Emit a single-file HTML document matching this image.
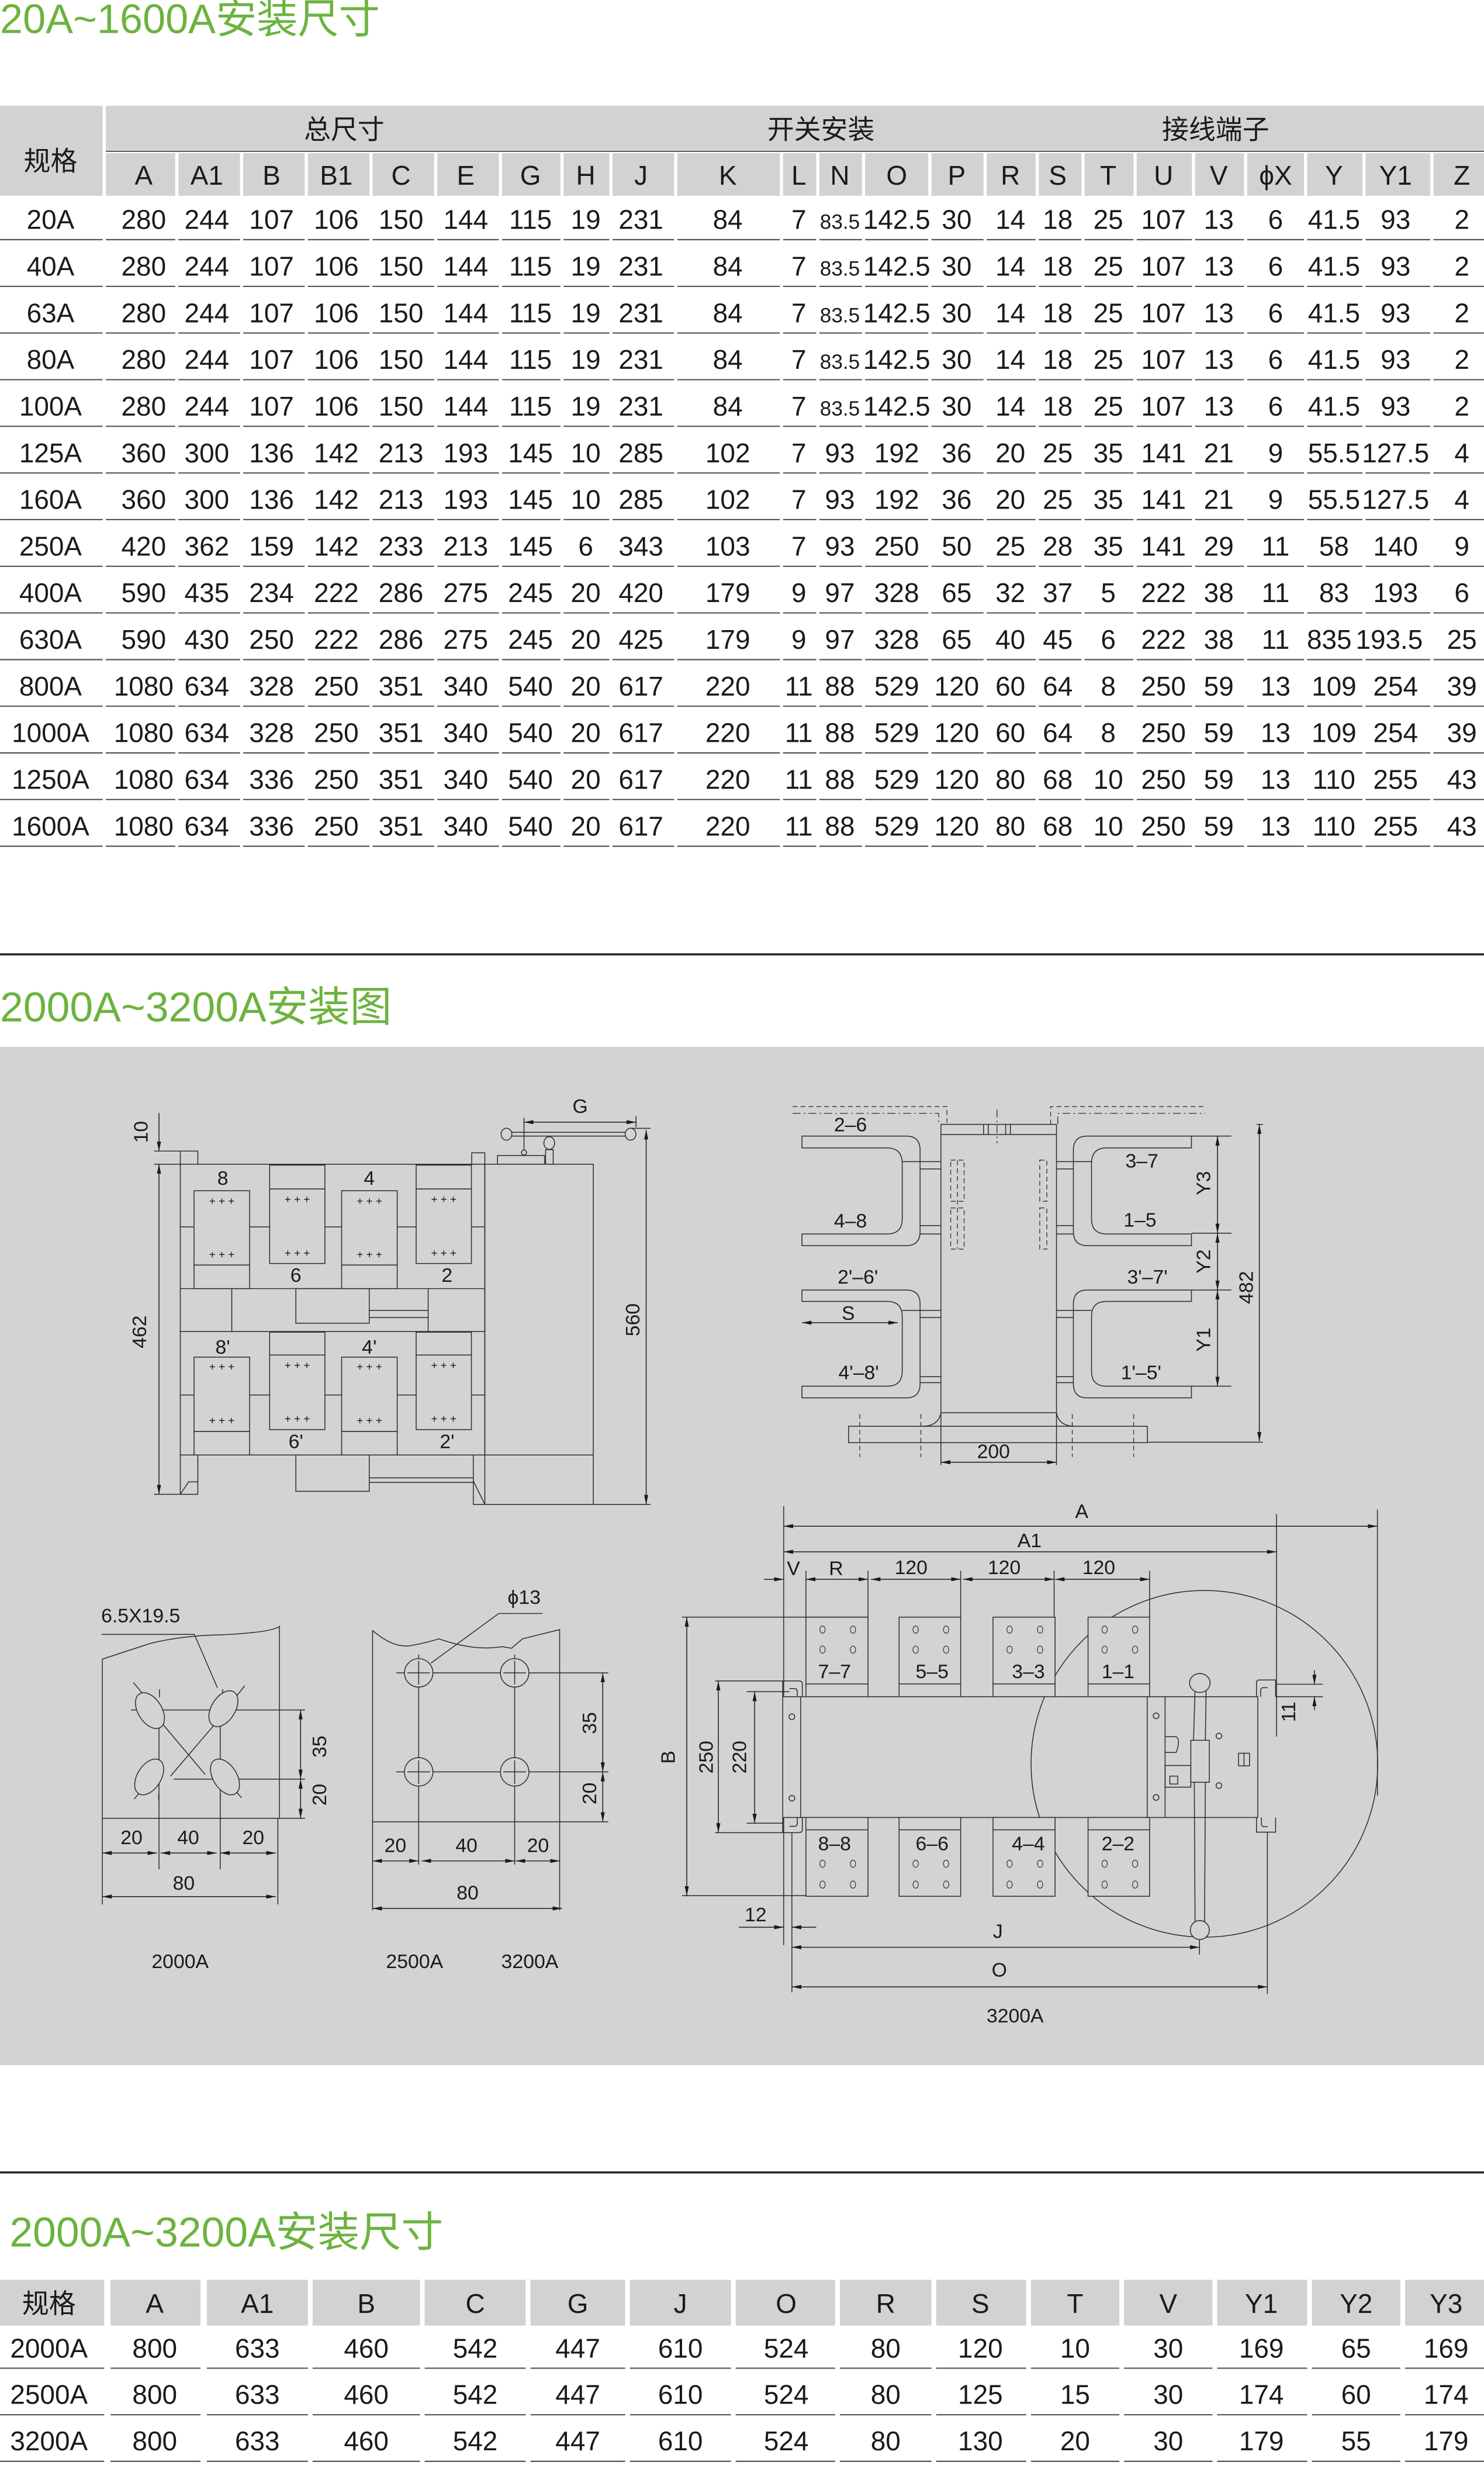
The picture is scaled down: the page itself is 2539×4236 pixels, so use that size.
<!DOCTYPE html>
<html><head><meta charset="utf-8">
<style>
html,body{margin:0;padding:0;background:#fff;}
svg{display:block;}
text{font-family:"Liberation Sans","Noto Sans CJK SC",sans-serif;fill:#1a1a1a;}
.t{text-anchor:middle;font-size:17px;}
.h{text-anchor:middle;font-size:17px;}
.g{fill:#6cb33f;font-size:26px;}
.d{fill:none;stroke:#2a2a2a;stroke-width:0.55;}
.dm{fill:none;stroke:#1a1a1a;stroke-width:0.55;marker-start:url(#a);marker-end:url(#a);}
.de{fill:none;stroke:#1a1a1a;stroke-width:0.55;marker-end:url(#a);}
.dash{fill:none;stroke:#333;stroke-width:0.5;stroke-dasharray:3 2;}
.dd{fill:none;stroke:#333;stroke-width:0.5;stroke-dasharray:5 2 1 2;}
.l{font-size:12.5px;text-anchor:middle;}
.p{font-size:7px;text-anchor:middle;}
.ho{fill:none;stroke:#333;stroke-width:0.45;}
</style></head><body>
<svg width="2539" height="4236" viewBox="0 0 940 1568.3" xmlns="http://www.w3.org/2000/svg">
<defs>
<marker id="a" viewBox="0 0 10 10" refX="10" refY="5" markerWidth="6" markerHeight="2.6" markerUnits="userSpaceOnUse" orient="auto-start-reverse" preserveAspectRatio="none"><path d="M0 0L10 5L0 10Z" fill="#1a1a1a"/></marker>
<path id="rl" d="M0 0H65M67 0H111M113 0H152M154 0H193M195 0H234M236 0H275M277 0H316M318 0H355M357 0H386M388 0H427M429 0H494M496 0H517M519 0H546M548 0H588M590 0H623M625 0H656M658 0H685M687 0H718M720 0H755M757 0H788M790 0H826M828 0H863M865 0H906M908 0H940" stroke="#555" stroke-width="0.8" fill="none"/>
<path id="rl2" d="M0 0H66M70 0H127M131 0H195M198 0H266M269 0H333M336 0H396M399 0H463M466 0H529M532 0H590M593 0H650M653 0H709M712 0H768M771 0H828M831 0H887M890 0H940" stroke="#555" stroke-width="0.8" fill="none"/>
</defs>

<!-- ===== Title 1 ===== -->
<text class="g" x="0" y="21">20A~1600A安装尺寸</text>

<!-- ===== Table 1 header ===== -->
<g fill="#d2d2d2">
<rect x="0" y="67" width="65" height="57"/>
<rect x="67" y="67" width="873" height="28"/>
<rect x="67" y="97" width="44" height="27"/><rect x="113" y="97" width="39" height="27"/><rect x="154" y="97" width="39" height="27"/><rect x="195" y="97" width="39" height="27"/><rect x="236" y="97" width="39" height="27"/><rect x="277" y="97" width="39" height="27"/><rect x="318" y="97" width="37" height="27"/><rect x="357" y="97" width="29" height="27"/><rect x="388" y="97" width="39" height="27"/><rect x="429" y="97" width="65" height="27"/><rect x="496" y="97" width="21" height="27"/><rect x="519" y="97" width="27" height="27"/><rect x="548" y="97" width="40" height="27"/><rect x="590" y="97" width="33" height="27"/><rect x="625" y="97" width="31" height="27"/><rect x="658" y="97" width="27" height="27"/><rect x="687" y="97" width="31" height="27"/><rect x="720" y="97" width="35" height="27"/><rect x="757" y="97" width="31" height="27"/><rect x="790" y="97" width="36" height="27"/><rect x="828" y="97" width="35" height="27"/><rect x="865" y="97" width="41" height="27"/><rect x="908" y="97" width="32" height="27"/>
</g>
<line x1="67" y1="95.8" x2="940" y2="95.8" stroke="#444" stroke-width="0.7"/>
<text class="h" x="32" y="108">规格</text>
<text class="h" x="218" y="88">总尺寸</text>
<text class="h" x="520" y="88">开关安装</text>
<text class="h" x="770" y="88">接线端子</text>
<text class="h" y="117"><tspan x="91">A</tspan><tspan x="131">A1</tspan><tspan x="172">B</tspan><tspan x="213">B1</tspan><tspan x="254">C</tspan><tspan x="295">E</tspan><tspan x="336">G</tspan><tspan x="371">H</tspan><tspan x="406">J</tspan><tspan x="461">K</tspan><tspan x="506">L</tspan><tspan x="532">N</tspan><tspan x="568">O</tspan><tspan x="606">P</tspan><tspan x="640">R</tspan><tspan x="670">S</tspan><tspan x="702">T</tspan><tspan x="737">U</tspan><tspan x="772">V</tspan><tspan x="808">ϕX</tspan><tspan x="845">Y</tspan><tspan x="884">Y1</tspan><tspan x="926">Z</tspan></text>

<!-- ===== Table 1 rows ===== -->
<g class="t">
<text y="145"><tspan x="32">20A</tspan><tspan x="91">280</tspan><tspan x="131">244</tspan><tspan x="172">107</tspan><tspan x="213">106</tspan><tspan x="254">150</tspan><tspan x="295">144</tspan><tspan x="336">115</tspan><tspan x="371">19</tspan><tspan x="406">231</tspan><tspan x="461">84</tspan><tspan x="506">7</tspan><tspan x="532" font-size="13">83.5</tspan><tspan x="568">142.5</tspan><tspan x="606">30</tspan><tspan x="640">14</tspan><tspan x="670">18</tspan><tspan x="702">25</tspan><tspan x="737">107</tspan><tspan x="772">13</tspan><tspan x="808">6</tspan><tspan x="845">41.5</tspan><tspan x="884">93</tspan><tspan x="926">2</tspan></text>
<text y="174.6"><tspan x="32">40A</tspan><tspan x="91">280</tspan><tspan x="131">244</tspan><tspan x="172">107</tspan><tspan x="213">106</tspan><tspan x="254">150</tspan><tspan x="295">144</tspan><tspan x="336">115</tspan><tspan x="371">19</tspan><tspan x="406">231</tspan><tspan x="461">84</tspan><tspan x="506">7</tspan><tspan x="532" font-size="13">83.5</tspan><tspan x="568">142.5</tspan><tspan x="606">30</tspan><tspan x="640">14</tspan><tspan x="670">18</tspan><tspan x="702">25</tspan><tspan x="737">107</tspan><tspan x="772">13</tspan><tspan x="808">6</tspan><tspan x="845">41.5</tspan><tspan x="884">93</tspan><tspan x="926">2</tspan></text>
<text y="204.1"><tspan x="32">63A</tspan><tspan x="91">280</tspan><tspan x="131">244</tspan><tspan x="172">107</tspan><tspan x="213">106</tspan><tspan x="254">150</tspan><tspan x="295">144</tspan><tspan x="336">115</tspan><tspan x="371">19</tspan><tspan x="406">231</tspan><tspan x="461">84</tspan><tspan x="506">7</tspan><tspan x="532" font-size="13">83.5</tspan><tspan x="568">142.5</tspan><tspan x="606">30</tspan><tspan x="640">14</tspan><tspan x="670">18</tspan><tspan x="702">25</tspan><tspan x="737">107</tspan><tspan x="772">13</tspan><tspan x="808">6</tspan><tspan x="845">41.5</tspan><tspan x="884">93</tspan><tspan x="926">2</tspan></text>
<text y="233.7"><tspan x="32">80A</tspan><tspan x="91">280</tspan><tspan x="131">244</tspan><tspan x="172">107</tspan><tspan x="213">106</tspan><tspan x="254">150</tspan><tspan x="295">144</tspan><tspan x="336">115</tspan><tspan x="371">19</tspan><tspan x="406">231</tspan><tspan x="461">84</tspan><tspan x="506">7</tspan><tspan x="532" font-size="13">83.5</tspan><tspan x="568">142.5</tspan><tspan x="606">30</tspan><tspan x="640">14</tspan><tspan x="670">18</tspan><tspan x="702">25</tspan><tspan x="737">107</tspan><tspan x="772">13</tspan><tspan x="808">6</tspan><tspan x="845">41.5</tspan><tspan x="884">93</tspan><tspan x="926">2</tspan></text>
<text y="263.2"><tspan x="32">100A</tspan><tspan x="91">280</tspan><tspan x="131">244</tspan><tspan x="172">107</tspan><tspan x="213">106</tspan><tspan x="254">150</tspan><tspan x="295">144</tspan><tspan x="336">115</tspan><tspan x="371">19</tspan><tspan x="406">231</tspan><tspan x="461">84</tspan><tspan x="506">7</tspan><tspan x="532" font-size="13">83.5</tspan><tspan x="568">142.5</tspan><tspan x="606">30</tspan><tspan x="640">14</tspan><tspan x="670">18</tspan><tspan x="702">25</tspan><tspan x="737">107</tspan><tspan x="772">13</tspan><tspan x="808">6</tspan><tspan x="845">41.5</tspan><tspan x="884">93</tspan><tspan x="926">2</tspan></text>
<text y="292.8"><tspan x="32">125A</tspan><tspan x="91">360</tspan><tspan x="131">300</tspan><tspan x="172">136</tspan><tspan x="213">142</tspan><tspan x="254">213</tspan><tspan x="295">193</tspan><tspan x="336">145</tspan><tspan x="371">10</tspan><tspan x="406">285</tspan><tspan x="461">102</tspan><tspan x="506">7</tspan><tspan x="532">93</tspan><tspan x="568">192</tspan><tspan x="606">36</tspan><tspan x="640">20</tspan><tspan x="670">25</tspan><tspan x="702">35</tspan><tspan x="737">141</tspan><tspan x="772">21</tspan><tspan x="808">9</tspan><tspan x="845">55.5</tspan><tspan x="884">127.5</tspan><tspan x="926">4</tspan></text>
<text y="322.3"><tspan x="32">160A</tspan><tspan x="91">360</tspan><tspan x="131">300</tspan><tspan x="172">136</tspan><tspan x="213">142</tspan><tspan x="254">213</tspan><tspan x="295">193</tspan><tspan x="336">145</tspan><tspan x="371">10</tspan><tspan x="406">285</tspan><tspan x="461">102</tspan><tspan x="506">7</tspan><tspan x="532">93</tspan><tspan x="568">192</tspan><tspan x="606">36</tspan><tspan x="640">20</tspan><tspan x="670">25</tspan><tspan x="702">35</tspan><tspan x="737">141</tspan><tspan x="772">21</tspan><tspan x="808">9</tspan><tspan x="845">55.5</tspan><tspan x="884">127.5</tspan><tspan x="926">4</tspan></text>
<text y="351.9"><tspan x="32">250A</tspan><tspan x="91">420</tspan><tspan x="131">362</tspan><tspan x="172">159</tspan><tspan x="213">142</tspan><tspan x="254">233</tspan><tspan x="295">213</tspan><tspan x="336">145</tspan><tspan x="371">6</tspan><tspan x="406">343</tspan><tspan x="461">103</tspan><tspan x="506">7</tspan><tspan x="532">93</tspan><tspan x="568">250</tspan><tspan x="606">50</tspan><tspan x="640">25</tspan><tspan x="670">28</tspan><tspan x="702">35</tspan><tspan x="737">141</tspan><tspan x="772">29</tspan><tspan x="808">11</tspan><tspan x="845">58</tspan><tspan x="884">140</tspan><tspan x="926">9</tspan></text>
<text y="381.4"><tspan x="32">400A</tspan><tspan x="91">590</tspan><tspan x="131">435</tspan><tspan x="172">234</tspan><tspan x="213">222</tspan><tspan x="254">286</tspan><tspan x="295">275</tspan><tspan x="336">245</tspan><tspan x="371">20</tspan><tspan x="406">420</tspan><tspan x="461">179</tspan><tspan x="506">9</tspan><tspan x="532">97</tspan><tspan x="568">328</tspan><tspan x="606">65</tspan><tspan x="640">32</tspan><tspan x="670">37</tspan><tspan x="702">5</tspan><tspan x="737">222</tspan><tspan x="772">38</tspan><tspan x="808">11</tspan><tspan x="845">83</tspan><tspan x="884">193</tspan><tspan x="926">6</tspan></text>
<text y="411"><tspan x="32">630A</tspan><tspan x="91">590</tspan><tspan x="131">430</tspan><tspan x="172">250</tspan><tspan x="213">222</tspan><tspan x="254">286</tspan><tspan x="295">275</tspan><tspan x="336">245</tspan><tspan x="371">20</tspan><tspan x="406">425</tspan><tspan x="461">179</tspan><tspan x="506">9</tspan><tspan x="532">97</tspan><tspan x="568">328</tspan><tspan x="606">65</tspan><tspan x="640">40</tspan><tspan x="670">45</tspan><tspan x="702">6</tspan><tspan x="737">222</tspan><tspan x="772">38</tspan><tspan x="808">11</tspan><tspan x="842">835</tspan><tspan x="880">193.5</tspan><tspan x="926">25</tspan></text>
<text y="440.5"><tspan x="32">800A</tspan><tspan x="91">1080</tspan><tspan x="131">634</tspan><tspan x="172">328</tspan><tspan x="213">250</tspan><tspan x="254">351</tspan><tspan x="295">340</tspan><tspan x="336">540</tspan><tspan x="371">20</tspan><tspan x="406">617</tspan><tspan x="461">220</tspan><tspan x="506">11</tspan><tspan x="532">88</tspan><tspan x="568">529</tspan><tspan x="606">120</tspan><tspan x="640">60</tspan><tspan x="670">64</tspan><tspan x="702">8</tspan><tspan x="737">250</tspan><tspan x="772">59</tspan><tspan x="808">13</tspan><tspan x="845">109</tspan><tspan x="884">254</tspan><tspan x="926">39</tspan></text>
<text y="470.1"><tspan x="32">1000A</tspan><tspan x="91">1080</tspan><tspan x="131">634</tspan><tspan x="172">328</tspan><tspan x="213">250</tspan><tspan x="254">351</tspan><tspan x="295">340</tspan><tspan x="336">540</tspan><tspan x="371">20</tspan><tspan x="406">617</tspan><tspan x="461">220</tspan><tspan x="506">11</tspan><tspan x="532">88</tspan><tspan x="568">529</tspan><tspan x="606">120</tspan><tspan x="640">60</tspan><tspan x="670">64</tspan><tspan x="702">8</tspan><tspan x="737">250</tspan><tspan x="772">59</tspan><tspan x="808">13</tspan><tspan x="845">109</tspan><tspan x="884">254</tspan><tspan x="926">39</tspan></text>
<text y="499.6"><tspan x="32">1250A</tspan><tspan x="91">1080</tspan><tspan x="131">634</tspan><tspan x="172">336</tspan><tspan x="213">250</tspan><tspan x="254">351</tspan><tspan x="295">340</tspan><tspan x="336">540</tspan><tspan x="371">20</tspan><tspan x="406">617</tspan><tspan x="461">220</tspan><tspan x="506">11</tspan><tspan x="532">88</tspan><tspan x="568">529</tspan><tspan x="606">120</tspan><tspan x="640">80</tspan><tspan x="670">68</tspan><tspan x="702">10</tspan><tspan x="737">250</tspan><tspan x="772">59</tspan><tspan x="808">13</tspan><tspan x="845">110</tspan><tspan x="884">255</tspan><tspan x="926">43</tspan></text>
<text y="529.2"><tspan x="32">1600A</tspan><tspan x="91">1080</tspan><tspan x="131">634</tspan><tspan x="172">336</tspan><tspan x="213">250</tspan><tspan x="254">351</tspan><tspan x="295">340</tspan><tspan x="336">540</tspan><tspan x="371">20</tspan><tspan x="406">617</tspan><tspan x="461">220</tspan><tspan x="506">11</tspan><tspan x="532">88</tspan><tspan x="568">529</tspan><tspan x="606">120</tspan><tspan x="640">80</tspan><tspan x="670">68</tspan><tspan x="702">10</tspan><tspan x="737">250</tspan><tspan x="772">59</tspan><tspan x="808">13</tspan><tspan x="845">110</tspan><tspan x="884">255</tspan><tspan x="926">43</tspan></text>
</g>
<use href="#rl" y="151.8"/><use href="#rl" y="181.4"/><use href="#rl" y="210.9"/><use href="#rl" y="240.5"/><use href="#rl" y="270"/><use href="#rl" y="299.6"/><use href="#rl" y="329.1"/><use href="#rl" y="358.7"/><use href="#rl" y="388.2"/><use href="#rl" y="417.8"/><use href="#rl" y="447.3"/><use href="#rl" y="476.9"/><use href="#rl" y="506.4"/><use href="#rl" y="536"/>

<!-- ===== Section 2 ===== -->
<line x1="0" y1="604.5" x2="940" y2="604.5" stroke="#222" stroke-width="1.3"/>
<text class="g" x="0" y="647" style="font-size:26.5px">2000A~3200A安装图</text>
<rect x="0" y="663" width="940" height="645" fill="#d3d3d3"/>

<!-- Drawing 1: front view -->
<g class="d">
<line x1="114.2" y1="777.1" x2="307.1" y2="777.1"/>
<line x1="114.2" y1="883.6" x2="307.1" y2="883.6"/>
<rect x="114.2" y="737.4" width="192.9" height="184.2"/>
<line x1="97.6" y1="737.4" x2="114.2" y2="737.4"/>
<rect x="307.1" y="737.4" width="68.7" height="215.5"/>
<line x1="307.1" y1="921.6" x2="375.8" y2="921.6"/>
<path d="M97.6 729.1H125.3V737.4M114.2 729.1V737.4"/>
<path d="M114.2 921.6V946.5M125.3 921.6V946.5H97.6M114.2 946.5L119.5 938.6H125.3"/>
<rect x="298.8" y="730.2" width="8.3" height="7.2"/>
<line x1="114.2" y1="816.2" x2="307.1" y2="816.2"/>
<line x1="114.2" y1="843.4" x2="307.1" y2="843.4"/>
<line x1="146.8" y1="816.2" x2="146.8" y2="843.4"/>
<line x1="271.2" y1="816.2" x2="271.2" y2="843.4"/>
<rect x="187.4" y="816.2" width="46.5" height="21.9"/>
<path d="M233.9 830H271.2M233.9 834.5H271.2"/>
<rect x="187.4" y="921.6" width="46.5" height="23"/>
<path d="M233.9 936.1H299.8M233.9 939H299.8"/>
<path d="M299.8 921.6V952.9H412M299.8 938L307.1 952.9"/>
<rect x="315.1" y="731.9" width="29.8" height="5.5"/>
<rect x="345.6" y="728.2" width="4.8" height="9.2"/>
<ellipse cx="347.9" cy="724" rx="3.4" ry="4"/>
<path d="M320.8 717.2H399.4M320.8 719.6H399.4"/>
<ellipse cx="320.8" cy="718.4" rx="3.4" ry="3.8" fill="#d3d3d3"/>
<ellipse cx="399.4" cy="718.4" rx="3.4" ry="3.8" fill="#d3d3d3"/>
<circle cx="331.9" cy="730" r="1.6"/>
<line x1="331.9" y1="708" x2="331.9" y2="728.4"/>
<line x1="400" y1="714.7" x2="412" y2="714.7"/>
<line x1="402.9" y1="707" x2="402.9" y2="714"/>
</g>
<g class="d" style="fill:#d3d3d3">
<rect x="122.9" y="754.2" width="35.2" height="47.1"/><rect x="122.9" y="801.3" width="35.2" height="14.9"/>
<rect x="216.4" y="754.2" width="35.2" height="47.1"/><rect x="216.4" y="801.3" width="35.2" height="14.9"/>
<rect x="170.8" y="738" width="35" height="15.1"/><rect x="170.8" y="753.1" width="35" height="47.2"/>
<rect x="263.6" y="738" width="35" height="15.1"/><rect x="263.6" y="753.1" width="35" height="47.2"/>
<rect x="122.9" y="859.6" width="35.2" height="47.1"/><rect x="122.9" y="906.7" width="35.2" height="14.9"/>
<rect x="216.4" y="859.6" width="35.2" height="47.1"/><rect x="216.4" y="906.7" width="35.2" height="14.9"/>
<rect x="170.8" y="843.8" width="35" height="14.5"/><rect x="170.8" y="858.3" width="35" height="47.2"/>
<rect x="263.6" y="843.8" width="35" height="14.5"/><rect x="263.6" y="858.3" width="35" height="47.2"/>
</g>
<g class="p">
<text x="140.5" y="763">+ + +</text><text x="140.5" y="797">+ + +</text>
<text x="234" y="763">+ + +</text><text x="234" y="797">+ + +</text>
<text x="188.3" y="762">+ + +</text><text x="188.3" y="796">+ + +</text>
<text x="281.1" y="762">+ + +</text><text x="281.1" y="796">+ + +</text>
<text x="140.5" y="868">+ + +</text><text x="140.5" y="902">+ + +</text>
<text x="234" y="868">+ + +</text><text x="234" y="902">+ + +</text>
<text x="188.3" y="867">+ + +</text><text x="188.3" y="901">+ + +</text>
<text x="281.1" y="867">+ + +</text><text x="281.1" y="901">+ + +</text>
</g>
<g class="l">
<text x="141.1" y="750.5">8</text><text x="233.9" y="750.5">4</text>
<text x="187.4" y="812">6</text><text x="283.2" y="812">2</text>
<text x="141.1" y="857.5">8'</text><text x="233.9" y="857.5">4'</text>
<text x="187.4" y="917.3">6'</text><text x="283.2" y="917.3">2'</text>
<text x="367.5" y="705">G</text>
<text transform="translate(93.5,717) rotate(-90)">10</text>
<text transform="translate(92.5,843.6) rotate(-90)">462</text>
<text transform="translate(405,836) rotate(-90)">560</text>
</g>
<line class="de" x1="100.7" y1="705" x2="100.7" y2="729.1"/>
<line class="dm" x1="100.7" y1="737.4" x2="100.7" y2="946.5"/>
<line class="dm" x1="409.3" y1="715.7" x2="409.3" y2="952.9"/>
<line class="dm" x1="331.9" y1="710.8" x2="402.9" y2="710.8"/>

<!-- Drawing 2: busbar side view -->
<g class="d">
<path d="M596 712.2H669.2M596 718.6H669.2M596 712.2V928M669.2 712.2V928M596 894.8H669.2"/>
<path d="M596 894.8Q594.5 903.4 584 903.4M669.2 894.8Q670.7 903.4 681 903.4"/>
<rect x="537.5" y="903.4" width="189.3" height="10.4"/>
<path d="M623 712.2V718.6M626 712.2V718.6M637 712.2V718.6M640 712.2V718.6"/>
<path d="M508 719.6H574Q582.8 719.6 582.8 728.5V780Q582.8 789 574 789H508V781.6H562Q571.5 781.6 571.5 772V737Q571.5 727.1 562 727.1H508Z"/>
<path d="M508 817.1H574Q582.8 817.1 582.8 826V876.5Q582.8 885.4 574 885.4H508V878H562Q571.5 878 571.5 868.5V833.8Q571.5 824.3 562 824.3H508Z"/>
<path d="M754.7 719.6H688.7Q679.9 719.6 679.9 728.5V780Q679.9 789 688.7 789H754.7V781.6H700.9Q691.4 781.6 691.4 772V737Q691.4 727.1 700.9 727.1H754.7Z"/>
<path d="M754.7 817.1H688.7Q679.9 817.1 679.9 826V876.5Q679.9 885.4 688.7 885.4H754.7V878H700.9Q691.4 878 691.4 868.5V833.8Q691.4 824.3 700.9 824.3H754.7Z"/>
<path d="M571.5 735.8H596M582.8 740.4H596M582.8 776.3H596M582.8 781.6H596M571.5 830H596M582.8 834.5H596M582.8 872H596M582.8 875.8H596"/>
<path d="M669.2 735.8H691.4M669.2 740.4H679.9M669.2 776.3H679.9M669.2 781.6H679.9M669.2 830H691.4M669.2 834.5H679.9M669.2 872H679.9M669.2 875.8H679.9"/>
<path d="M796 712.2H800M754.7 719.6H780M755 781.1H780M755 817.1H780M755 878H780M727 913.5H800"/>
</g>
<g class="dash">
<path d="M502.1 700.9H599.8V712.2"/>
<path d="M665.5 712.2V700.9H763.4"/>
<rect x="602.2" y="734.8" width="8.5" height="26.1"/><rect x="602.2" y="765.1" width="8.5" height="26.1"/>
<line x1="606.5" y1="735" x2="606.5" y2="791"/>
<rect x="658.6" y="734.8" width="4.5" height="26.1"/><rect x="658.6" y="765.1" width="4.5" height="26.1"/>
<path d="M544.6 895.7V922.9M583.3 895.7V922.9M679.2 895.7V922.9M718.1 895.7V922.9"/>
</g>
<g class="dd">
<path d="M502.1 705.2H594.6V712.2"/><path d="M670 712.2V705.2H763.4"/>
<line x1="631.5" y1="702.8" x2="631.5" y2="724.2"/>
</g>
<line class="dm" x1="508" y1="837.8" x2="568.7" y2="837.8"/>
<line class="dm" x1="771.2" y1="719.6" x2="771.2" y2="781.1"/>
<line class="dm" x1="771.2" y1="781.1" x2="771.2" y2="817.1"/>
<line class="dm" x1="771.2" y1="817.1" x2="771.2" y2="878"/>
<line class="dm" x1="797.7" y1="712.2" x2="797.7" y2="913"/>
<line class="dm" x1="596" y1="926.2" x2="669.2" y2="926.2"/>
<g class="l">
<text x="538.7" y="716.5">2–6</text><text x="538.7" y="777.5">4–8</text>
<text x="723.3" y="739.5">3–7</text><text x="722.1" y="777">1–5</text>
<text x="543.4" y="813">2'–6'</text><text x="537.3" y="836">S</text>
<text x="543.9" y="873.5">4'–8'</text><text x="726.8" y="813">3'–7'</text>
<text x="722.8" y="873.5">1'–5'</text><text x="629.3" y="923.5">200</text>
<text transform="translate(766.5,749.4) rotate(-90)">Y3</text>
<text transform="translate(766.5,799) rotate(-90)">Y2</text>
<text transform="translate(766.5,848.5) rotate(-90)">Y1</text>
<text transform="translate(793.5,815.5) rotate(-90)">482</text>
</g>

<!-- Drawing 3: top view 3200A -->
<g class="d">
<path d="M496.4 954V1232M808.6 959V1100M872.5 956.1V1137.4M549.8 995V1024.3M608.5 995V1024.3M667.7 995V1024.3M728.2 995V1024.3M510.5 995V1024.3"/>
<path d="M501.6 1160.5V1262M802.8 1160.5V1263M759.8 1218V1238"/>
<path d="M432 1024.3H549.8M432 1200.7H510.5M453 1064.7H500M473 1071.5H500M453 1160.8H496M473 1154.8H496M808 1066.8H838M808 1074.7H838"/>
<rect x="495.8" y="1074.7" width="300.9" height="76.5" fill="#d3d3d3"/>
<path d="M507.2 1074.7V1151.2M726.7 1074.7V1151.2M738 1074.7V1151.2"/>
<circle cx="501.6" cy="1087.4" r="1.8"/><circle cx="501.6" cy="1139" r="1.8"/>
<circle cx="732.3" cy="1086.8" r="1.8"/><circle cx="732.3" cy="1138.5" r="1.8"/>
<circle cx="772.1" cy="1099.6" r="1.8"/><circle cx="772.1" cy="1131" r="1.8"/>
<rect x="784.5" y="1110.5" width="7" height="8"/><line x1="788" y1="1110.5" x2="788" y2="1118.5"/>
<path d="M495.8 1064.7H506Q508.2 1064.7 508.2 1066.5V1074.7M495.8 1064.7V1074.7M500 1069.5H503Q505 1069.5 505 1071.5V1074.7"/>
<path d="M495.8 1151.2V1160.8H506Q508.2 1160.8 508.2 1158.8V1151.2M500 1156.8H503Q505 1156.8 505 1154.8V1151.2"/>
<path d="M808 1064.1H797.5Q795.9 1064.1 795.9 1066V1074.7M808 1064.1V1074.7M803 1069H800Q798.5 1069 798.5 1071V1074.7"/>
<path d="M795.9 1151.2V1160.5H808V1151.2M799 1151.2V1155Q799 1157 801 1157H803"/>
<circle cx="762.9" cy="1117.2" r="109.8"/>
<path d="M738 1118.3H754.3V1132H738Z M741 1125H746V1130H741Z"/>
<path d="M738 1100H745Q748 1102 745 1110H738"/>
<rect x="754.3" y="1102.3" width="11.7" height="26.6" fill="#d3d3d3"/>
<path d="M757 1070L756 1102.3M764 1070L763.5 1102.3M756.5 1128.9L757 1220M763.5 1128.9L763 1220" />
<ellipse cx="760" cy="1066" rx="6.5" ry="6" fill="#d3d3d3"/>
<ellipse cx="760" cy="1222.5" rx="6" ry="6" fill="#d3d3d3"/>
</g>
<g class="d" style="fill:#d3d3d3">
<rect x="510.5" y="1024.3" width="39.3" height="50.4"/><rect x="569.5" y="1024.3" width="39" height="50.4"/>
<rect x="629" y="1024.3" width="39.3" height="50.4"/><rect x="689.2" y="1024.3" width="39" height="50.4"/>
<rect x="510.5" y="1151.2" width="39.3" height="49.9"/><rect x="569.5" y="1151.2" width="39" height="49.9"/>
<rect x="629" y="1151.2" width="39.3" height="49.9"/><rect x="689.2" y="1151.2" width="39" height="49.9"/>
</g>
<path class="d" d="M510.5 1066.6H549.8M569.5 1066.6H608.5M629 1066.6H668.3M689.2 1066.6H728.2M510.5 1159H549.8M569.5 1159H608.5M629 1159H668.3M689.2 1159H728.2"/>
<g class="ho">
<ellipse cx="521" cy="1032.2" rx="1.7" ry="2.3"/><ellipse cx="540.3" cy="1032.2" rx="1.7" ry="2.3"/><ellipse cx="521" cy="1044.9" rx="1.7" ry="2.3"/><ellipse cx="540.3" cy="1044.9" rx="1.7" ry="2.3"/>
<ellipse cx="580" cy="1032.2" rx="1.7" ry="2.3"/><ellipse cx="599.3" cy="1032.2" rx="1.7" ry="2.3"/><ellipse cx="580" cy="1044.9" rx="1.7" ry="2.3"/><ellipse cx="599.3" cy="1044.9" rx="1.7" ry="2.3"/>
<ellipse cx="639.5" cy="1032.2" rx="1.7" ry="2.3"/><ellipse cx="658.8" cy="1032.2" rx="1.7" ry="2.3"/><ellipse cx="639.5" cy="1044.9" rx="1.7" ry="2.3"/><ellipse cx="658.8" cy="1044.9" rx="1.7" ry="2.3"/>
<ellipse cx="699.7" cy="1032.2" rx="1.7" ry="2.3"/><ellipse cx="719" cy="1032.2" rx="1.7" ry="2.3"/><ellipse cx="699.7" cy="1044.9" rx="1.7" ry="2.3"/><ellipse cx="719" cy="1044.9" rx="1.7" ry="2.3"/>
<ellipse cx="521" cy="1180.5" rx="1.7" ry="2.3"/><ellipse cx="540.3" cy="1180.5" rx="1.7" ry="2.3"/><ellipse cx="521" cy="1193.7" rx="1.7" ry="2.3"/><ellipse cx="540.3" cy="1193.7" rx="1.7" ry="2.3"/>
<ellipse cx="580" cy="1180.5" rx="1.7" ry="2.3"/><ellipse cx="599.3" cy="1180.5" rx="1.7" ry="2.3"/><ellipse cx="580" cy="1193.7" rx="1.7" ry="2.3"/><ellipse cx="599.3" cy="1193.7" rx="1.7" ry="2.3"/>
<ellipse cx="639.5" cy="1180.5" rx="1.7" ry="2.3"/><ellipse cx="658.8" cy="1180.5" rx="1.7" ry="2.3"/><ellipse cx="639.5" cy="1193.7" rx="1.7" ry="2.3"/><ellipse cx="658.8" cy="1193.7" rx="1.7" ry="2.3"/>
<ellipse cx="699.7" cy="1180.5" rx="1.7" ry="2.3"/><ellipse cx="719" cy="1180.5" rx="1.7" ry="2.3"/><ellipse cx="699.7" cy="1193.7" rx="1.7" ry="2.3"/><ellipse cx="719" cy="1193.7" rx="1.7" ry="2.3"/>
</g>
<line class="dm" x1="496.4" y1="966.7" x2="872.5" y2="966.7"/>
<line class="dm" x1="496.4" y1="982.9" x2="808.6" y2="982.9"/>
<line class="de" x1="484" y1="1000.3" x2="496.4" y2="1000.3"/>
<line class="dm" x1="510.5" y1="1000.3" x2="549.8" y2="1000.3"/>
<line class="dm" x1="551.7" y1="1000.3" x2="608.5" y2="1000.3"/>
<line class="dm" x1="610" y1="1000.3" x2="667.7" y2="1000.3"/>
<line class="dm" x1="668.3" y1="1000.3" x2="728.2" y2="1000.3"/>
<line class="dm" x1="435" y1="1024.3" x2="435" y2="1200.7"/>
<line class="dm" x1="455" y1="1064.7" x2="455" y2="1160.8"/>
<line class="dm" x1="478" y1="1071.5" x2="478" y2="1154.8"/>
<line class="de" x1="832.6" y1="1058" x2="832.6" y2="1066.8"/>
<line class="de" x1="832.6" y1="1083" x2="832.6" y2="1074.7"/>
<line class="de" x1="468" y1="1220.7" x2="496.4" y2="1220.7"/>
<line class="de" x1="517" y1="1220.7" x2="501.6" y2="1220.7"/>
<line class="dm" x1="501.6" y1="1233.4" x2="759.8" y2="1233.4"/>
<line class="dm" x1="501.6" y1="1258.5" x2="802.8" y2="1258.5"/>
<g class="l">
<text x="685.2" y="961.5">A</text><text x="652.1" y="980">A1</text>
<text x="502.6" y="997.5">V</text><text x="529.6" y="997.5">R</text>
<text x="577.1" y="997">120</text><text x="636.1" y="997">120</text><text x="696" y="997">120</text>
<text x="528.6" y="1063">7–7</text><text x="590.4" y="1063">5–5</text><text x="651.4" y="1063">3–3</text><text x="708.2" y="1063">1–1</text>
<text x="528.6" y="1172">8–8</text><text x="590.4" y="1172">6–6</text><text x="651.4" y="1172">4–4</text><text x="708.2" y="1172">2–2</text>
<text x="478.6" y="1217">12</text><text x="632.1" y="1227.5">J</text><text x="633" y="1252">O</text>
<text x="643" y="1281">3200A</text>
<text transform="translate(427.5,1113) rotate(-90)">B</text>
<text transform="translate(451.5,1113) rotate(-90)">250</text>
<text transform="translate(472.5,1113) rotate(-90)">220</text>
<text transform="translate(820.5,1084.3) rotate(-90)">11</text>
</g>

<!-- Drawing 4: 2000A hole pattern -->
<g class="d">
<path d="M64.8 1050.9V1206.3M64.8 1050.9L95 1041Q115 1036 140 1035.5Q172 1034 177 1030.2V1151.7M64.8 1151.7H193.2M176 1151.7V1206.3"/>
<path d="M83 1083.1H193.2M110 1126.9H193.2M100.7 1083.1V1184M139.5 1083.1V1184"/>
<path d="M103 1092L130 1124M137 1091L108 1125"/>
<path d="M64.3 1035.2H123.1L137.7 1069"/>
<path d="M84.5 1065.7L91 1073.5M101 1070V1075M141 1070V1074.5M155 1067.7L148.5 1076M85 1139.5L91.5 1132M100.5 1136.5V1140.5M139.5 1136V1140M153 1138.7L146.5 1131.5"/>
<ellipse cx="95" cy="1083.5" rx="12.5" ry="7.5" transform="rotate(58 95 1083.5)" fill="#d3d3d3"/>
<ellipse cx="141.5" cy="1082.3" rx="12.5" ry="7.5" transform="rotate(-58 141.5 1082.3)" fill="#d3d3d3"/>
<ellipse cx="94.5" cy="1125.5" rx="12.5" ry="7.5" transform="rotate(-58 94.5 1125.5)" fill="#d3d3d3"/>
<ellipse cx="142.5" cy="1125.5" rx="12.5" ry="7.5" transform="rotate(58 142.5 1125.5)" fill="#d3d3d3"/>
</g>
<line class="dm" x1="190.4" y1="1083.1" x2="190.4" y2="1126.9"/>
<line class="dm" x1="190.4" y1="1126.9" x2="190.4" y2="1151.7"/>
<line class="dm" x1="64.8" y1="1173.7" x2="99.5" y2="1173.7"/>
<line class="dm" x1="101.8" y1="1173.7" x2="137.2" y2="1173.7"/>
<line class="dm" x1="139.5" y1="1173.7" x2="174.7" y2="1173.7"/>
<line class="dm" x1="64.8" y1="1201.3" x2="174.7" y2="1201.3"/>
<g class="l">
<text x="89.1" y="1027.5">6.5X19.5</text>
<text x="83.3" y="1168">20</text><text x="119.2" y="1168">40</text><text x="160.4" y="1168">20</text>
<text x="116.4" y="1197">80</text>
<text x="114.1" y="1246.5">2000A</text>
<text transform="translate(206.5,1106.3) rotate(-90)">35</text>
<text transform="translate(206.5,1136.8) rotate(-90)">20</text>
</g>

<!-- Drawing 5: 2500A/3200A hole pattern -->
<g class="d">
<path d="M236 1032.7V1210M236 1032.7Q250 1045 262 1042Q272 1040 278 1038Q300 1046 318 1043L324 1044L331 1038L354.5 1032.2V1153.9M236 1153.9H385.3"/>
<path d="M251 1059.6H385.3M251 1122.3H385.3M265.2 1048V1181M326 1048V1181M354.5 1153.9V1210"/>
<path d="M343.6 1022H315.9L273 1053.4"/>
<circle cx="265.2" cy="1059.6" r="9" fill="#d3d3d3"/><circle cx="326" cy="1059.6" r="9" fill="#d3d3d3"/>
<circle cx="265.2" cy="1122.3" r="9" fill="#d3d3d3"/><circle cx="326" cy="1122.3" r="9" fill="#d3d3d3"/>
<path d="M258 1059.6H272.4M318.8 1059.6H333.2M258 1122.3H272.4M318.8 1122.3H333.2M265.2 1052V1067M326 1052V1067M265.2 1115V1130M326 1115V1130"/>
</g>
<line class="dm" x1="381.8" y1="1059.6" x2="381.8" y2="1122.3"/>
<line class="dm" x1="381.8" y1="1122.3" x2="381.8" y2="1153.9"/>
<line class="dm" x1="236" y1="1178.7" x2="265.2" y2="1178.7"/>
<line class="dm" x1="267" y1="1178.7" x2="326" y2="1178.7"/>
<line class="dm" x1="326.6" y1="1178.7" x2="354.5" y2="1178.7"/>
<line class="dm" x1="236" y1="1208.8" x2="356" y2="1208.8"/>
<g class="l">
<text x="332" y="1016">ϕ13</text>
<text x="250.4" y="1173">20</text><text x="295.5" y="1173">40</text><text x="340.8" y="1173">20</text>
<text x="296.2" y="1203">80</text>
<text x="262.6" y="1246.5">2500A</text><text x="335.6" y="1246.5">3200A</text>
<text transform="translate(377.7,1091.4) rotate(-90)">35</text>
<text transform="translate(377.7,1136) rotate(-90)">20</text>
</g>

<!-- ===== Section 3 ===== -->
<line x1="0" y1="1376" x2="940" y2="1376" stroke="#222" stroke-width="1.3"/>
<text class="g" x="6" y="1423" style="font-size:26.5px">2000A~3200A安装尺寸</text>
<g fill="#d2d2d2">
<rect x="0" y="1444" width="66" height="29"/><rect x="70" y="1444" width="57" height="29"/><rect x="131" y="1444" width="64" height="29"/><rect x="198" y="1444" width="68" height="29"/><rect x="269" y="1444" width="64" height="29"/><rect x="336" y="1444" width="60" height="29"/><rect x="399" y="1444" width="64" height="29"/><rect x="466" y="1444" width="63" height="29"/><rect x="532" y="1444" width="58" height="29"/><rect x="593" y="1444" width="57" height="29"/><rect x="653" y="1444" width="56" height="29"/><rect x="712" y="1444" width="56" height="29"/><rect x="771" y="1444" width="57" height="29"/><rect x="831" y="1444" width="56" height="29"/><rect x="890" y="1444" width="50" height="29"/>
</g>
<g class="t">
<text y="1465"><tspan x="31">规格</tspan><tspan x="98">A</tspan><tspan x="163">A1</tspan><tspan x="232">B</tspan><tspan x="301">C</tspan><tspan x="366">G</tspan><tspan x="431">J</tspan><tspan x="498">O</tspan><tspan x="561">R</tspan><tspan x="621">S</tspan><tspan x="681">T</tspan><tspan x="740">V</tspan><tspan x="799">Y1</tspan><tspan x="859">Y2</tspan><tspan x="916">Y3</tspan></text>
<text y="1493.3"><tspan x="31">2000A</tspan><tspan x="98">800</tspan><tspan x="163">633</tspan><tspan x="232">460</tspan><tspan x="301">542</tspan><tspan x="366">447</tspan><tspan x="431">610</tspan><tspan x="498">524</tspan><tspan x="561">80</tspan><tspan x="621">120</tspan><tspan x="681">10</tspan><tspan x="740">30</tspan><tspan x="799">169</tspan><tspan x="859">65</tspan><tspan x="916">169</tspan></text>
<text y="1522.5"><tspan x="31">2500A</tspan><tspan x="98">800</tspan><tspan x="163">633</tspan><tspan x="232">460</tspan><tspan x="301">542</tspan><tspan x="366">447</tspan><tspan x="431">610</tspan><tspan x="498">524</tspan><tspan x="561">80</tspan><tspan x="621">125</tspan><tspan x="681">15</tspan><tspan x="740">30</tspan><tspan x="799">174</tspan><tspan x="859">60</tspan><tspan x="916">174</tspan></text>
<text y="1552.1"><tspan x="31">3200A</tspan><tspan x="98">800</tspan><tspan x="163">633</tspan><tspan x="232">460</tspan><tspan x="301">542</tspan><tspan x="366">447</tspan><tspan x="431">610</tspan><tspan x="498">524</tspan><tspan x="561">80</tspan><tspan x="621">130</tspan><tspan x="681">20</tspan><tspan x="740">30</tspan><tspan x="799">179</tspan><tspan x="859">55</tspan><tspan x="916">179</tspan></text>
</g>
<use href="#rl2" y="1500"/><use href="#rl2" y="1529.5"/>
<use href="#rl2" y="1559" style="stroke-width:1.4"/>
</svg>
</body></html>
